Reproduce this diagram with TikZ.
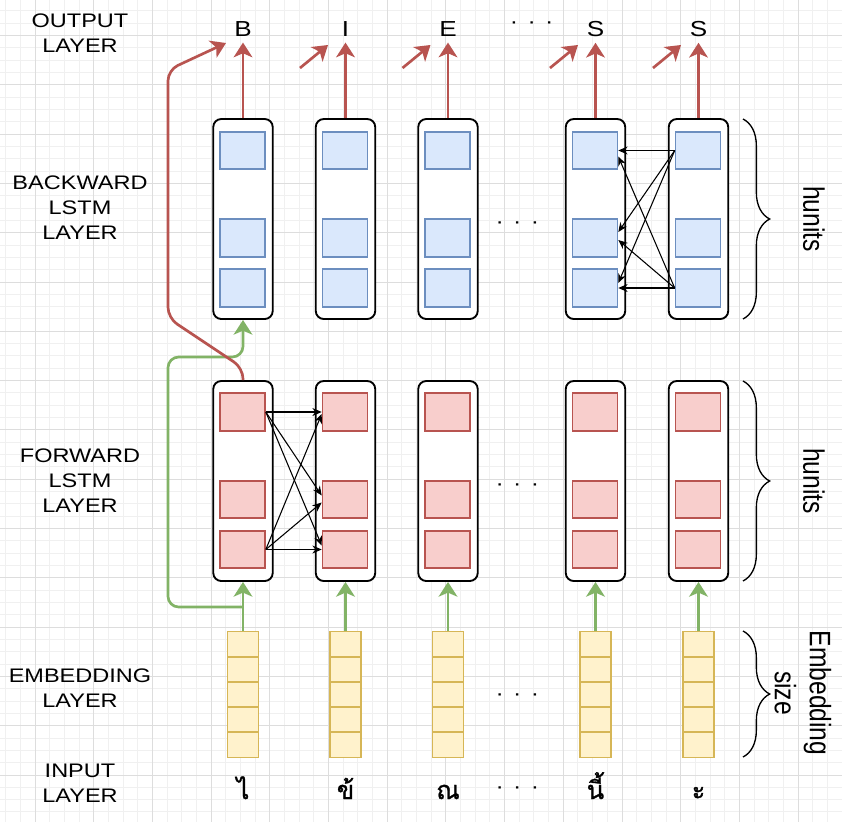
\documentclass[tikz,border=0pt]{standalone}
\usepackage{fontspec}
\setmainfont{Liberation Sans}[FakeStretch=1.2]
\newfontfamily\rotfont{Liberation Sans}[FakeStretch=0.833]
\newfontfamily\thaifont[Script=Thai, FakeBold=1.2]{Loma}
\usetikzlibrary{arrows.meta,calc,decorations.pathreplacing}
\definecolor{gridminor}{HTML}{F0F0F0}
\definecolor{gridmajor}{HTML}{DDDDDD}
\definecolor{bluefill}{HTML}{DAE8FC}
\definecolor{bluedraw}{HTML}{6C8EBF}
\definecolor{redfill}{HTML}{F8CECC}
\definecolor{reddraw}{HTML}{B85450}
\definecolor{yelfill}{HTML}{FFF2CC}
\definecolor{yeldraw}{HTML}{D6B656}
\definecolor{grn}{HTML}{82B366}

\begin{document}
\begin{tikzpicture}[x=0.75pt, y=-0.75pt]
    \tikzset{%
      cell/.style={draw=black, line width=1.4pt, fill=white, rounded
        corners=6pt, minimum width=44.6pt, minimum height=150pt, inner sep=0pt},
      bsq/.style={draw=bluedraw, fill=bluefill, line width=1.2pt, minimum
        width=33.75pt, minimum height=28.1pt, inner sep=0pt},
      fsq/.style={bsq, draw=reddraw, fill=redfill},
      emb/.style={draw=yeldraw, fill=yelfill, line width=1.1pt, minimum
        width=23pt, minimum height=18.8pt, inner sep=0pt},
      lbl/.style={align=center, inner sep=0pt, font=\fontsize{14.7}{18.75}\selectfont},
      outl/.style={inner sep=4pt, font=\fontsize{16.3}{18}\selectfont},
      inl/.style={inner sep=0pt, anchor=base, font=\thaifont\fontsize{19}{22}\selectfont},
      dotsl/.style={inner sep=0pt, font=\fontsize{15.5}{18}\selectfont},
      sidelbl/.style={align=center, inner sep=0pt, rotate=-90,
        font=\rotfont\fontsize{22.2}{26.25}\selectfont},
      rarr/.style={draw=reddraw, line width=2pt, -{Stealth[length=11pt, width=14pt, inset=3pt]}},
      garr/.style={draw=grn, line width=2pt, -{Stealth[length=11pt, width=14pt, inset=3pt]}},
      karr/.style={draw=black, line width=0.8pt, -{Stealth[length=7pt, width=6pt]}},
      brc/.style={draw=black, line width=1pt, decorate, decoration={brace, amplitude=20pt}},
    }
    \useasboundingbox (0,0) rectangle (842,822);
    \fill[white] (0,0) rectangle (842,822);

    % grid
    \foreach \k in {-2,...,55}
      \draw[gridminor, line width=0.75pt] ({35+\k*14.675},0) -- ({35+\k*14.675},822);
    \foreach \k in {-22,...,43}
      \draw[gridminor, line width=0.75pt] (0,{282+\k*12.325}) -- (842,{282+\k*12.325});
    \foreach \k in {-1,...,13}
      \draw[gridmajor, line width=0.75pt] ({35+\k*58.7},0) -- ({35+\k*58.7},822);
    \foreach \k in {-5,...,10}
      \draw[gridmajor, line width=0.75pt] (0,{282+\k*49.3}) -- (842,{282+\k*49.3});

    % layer names
    \node[lbl] (Lout) at (80,33) {OUTPUT\\LAYER};
    \node[lbl] (Lbk) at (80,208) {BACKWARD\\LSTM\\LAYER};
    \node[lbl] (Lfw) at (80,480.5) {FORWARD\\LSTM\\LAYER};
    \node[lbl] (Lemb) at (80,688) {EMBEDDING\\LAYER};
    \node[lbl] (Lin) at (80,783) {INPUT\\LAYER};

    % columns
    \foreach \i/\xx/\ltr/\thai in {1/243/B/ไ, 2/345.5/I/ข้, 3/448/E/ณ, 4/595.5/S/นี้, 5/698.5/S/ะ} {
      \node[cell] (Bk\i) at (\xx,219) {};
      \node[bsq] (Bka\i) at ({\xx-0.5},150.5) {};
      \node[bsq] (Bkb\i) at ({\xx-0.5},238) {};
      \node[bsq] (Bkc\i) at ({\xx-0.5},288) {};

      \node[cell] (Fw\i) at (\xx,481) {};
      \node[fsq] (Fwa\i) at ({\xx-0.5},412) {};
      \node[fsq] (Fwb\i) at ({\xx-0.5},499.5) {};
      \node[fsq] (Fwc\i) at ({\xx-0.5},549.5) {};

      \foreach \j in {1,...,5}
        \node[emb] (E\i\j) at (\xx,{631.7+(\j-0.5)*25.12}) {};

      \node[outl] (O\i) at (\xx,29.5) {\ltr};
      \node[inl] (I\i) at (\xx,799) {\thai};

      \draw[garr] (E\i1.north) -- (Fw\i.south);
      \draw[rarr] (Bk\i.north) -- (O\i.south);
      \ifnum\i>1
        \coordinate (ds\i) at ({\xx-45.5},68);
        \coordinate (de\i) at ({\xx-17.5},45);
        \draw[rarr] (ds\i) -- (de\i);
      \fi
    }

    % dots
    \node[dotsl] (D1) at (531.7,25) {·\hspace{7pt}·\hspace{7pt}·};
    \node[dotsl] (D2) at (517.3,225) {·\hspace{7pt}·\hspace{7pt}·};
    \node[dotsl] (D3) at (517.3,487.3) {·\hspace{7pt}·\hspace{7pt}·};
    \node[dotsl] (D4) at (517.3,697) {·\hspace{7pt}·\hspace{7pt}·};
    \node[dotsl] (D5) at (517.3,790) {·\hspace{7pt}·\hspace{7pt}·};

    % skip connections of the first column
    \coordinate (gj1) at (243,607);
    \draw[garr, rounded corners=8pt] (gj1) -- (168,607) -- (168,357) -- (243,357) -- (Bk1.south);
    \coordinate (rt1) at (226,43);
    \draw[rarr, rounded corners=8pt] (Fw1.north) -- (243,368) -- (168,318) -- (168,70) -- (rt1);

    % forward links
    \draw[karr] (Fwa1.east) -- (Fwa2.west);
    \draw[karr] (Fwa1.east) -- ($(Fwb2.west)+(0,-4)$);
    \draw[karr] (Fwa1.east) -- ($(Fwc2.west)+(0,-4)$);
    \draw[karr] (Fwc1.east) -- ($(Fwa2.west)+(0,2)$);
    \draw[karr] (Fwc1.east) -- ($(Fwb2.west)+(0,3)$);
    \draw[karr] (Fwc1.east) -- (Fwc2.west);

    % backward links
    \draw[karr] (Bka5.west) -- (Bka4.east);
    \draw[karr] (Bka5.west) -- ($(Bkb4.east)+(0,-6)$);
    \draw[karr] (Bka5.west) -- ($(Bkc4.east)+(0,-5)$);
    \draw[karr] (Bkc5.west) -- ($(Bka4.east)+(0,6)$);
    \draw[karr] (Bkc5.west) -- ($(Bkb4.east)+(0,2)$);
    \draw[karr] (Bkc5.west) -- (Bkc4.east);

    % braces
    \coordinate (bt1) at (743,119);
    \coordinate (bb1) at (743,319);
    \draw[brc] (bt1) -- (bb1);
    \node[sidelbl] (H1) at (814,219) {hunits};

    \coordinate (bt2) at (743,381);
    \coordinate (bb2) at (743,581);
    \draw[brc] (bt2) -- (bb2);
    \node[sidelbl] (H2) at (814,481) {hunits};

    \coordinate (bt3) at (743,631);
    \coordinate (bb3) at (743,757);
    \draw[brc] (bt3) -- (bb3);
    \node[sidelbl] (H3) at (803,693) {Embedding\\size};
  \end{tikzpicture}
\end{document}
